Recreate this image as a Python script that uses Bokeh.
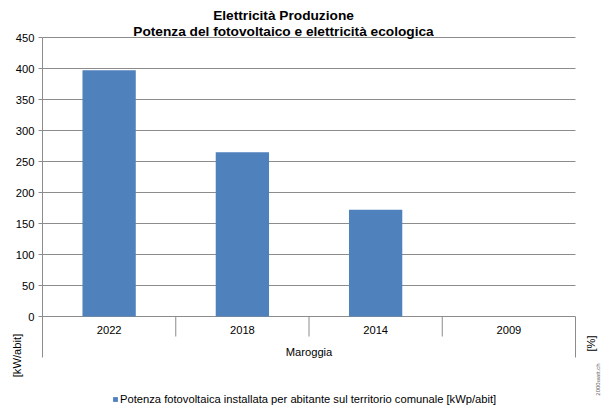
import numpy as np
from bokeh.plotting import figure
from bokeh.models import Legend, LegendItem, Range1d
from bokeh.core.properties import value
from bokeh.embed import file_html
from bokeh.resources import INLINE

# ---- data ----
categories = ["2022", "2018", "2014", "2009"]
group_label = "Maroggia"
values = [397, 265, 172, float("nan")]
y_ticks = [0, 50, 100, 150, 200, 250, 300, 350, 400, 450]
y_tick_labels = ["0", "50", "100", "150", "200", "250", "300", "350", "400", "450"]
series_name = "Potenza fotovoltaica installata per abitante sul territorio comunale [kWp/abit]"
title_1 = "Elettricità Produzione"
title_2 = "Potenza del fotovoltaico e elettricità ecologica"
y_label_left = "[kW/abit]"
y_label_right = "[%]"
source_note = "2000watt.ch"

# ---- style / layout (pixels) ----
FONT = "Liberation Sans"
FS = "11.2px"
FS_TITLE = "13.7px"
GRID = "#8c8c8c"
BAR = "#4F81BD"
TXT = "#000000"
W, H = 603, 407
FR_L, FR_R, FR_T, FR_B = 42, 575, 37, 316     # plot-area box in pixels
Y_MAX = y_ticks[-1]
n = len(categories)

px_per_x = (FR_R - FR_L) / n
px_per_y = (FR_B - FR_T) / Y_MAX
def xd(px):   # pixel column -> data x
    return (px - FR_L) / px_per_x
def yd(py):   # pixel row -> data y
    return (FR_B - py) / px_per_y

p = figure(width=W, height=H, output_backend="svg", toolbar_location=None,
           x_range=Range1d(xd(0), xd(W)), y_range=Range1d(yd(H), yd(0)),
           min_border=0, x_axis_location=None, y_axis_location=None)
p.outline_line_color = None
p.grid.visible = False
p.background_fill_color = "white"
p.border_fill_color = "white"

xs = [i + 0.5 for i in range(n)]

# gridlines
p.segment(x0=[0] * len(y_ticks), x1=[n] * len(y_ticks), y0=y_ticks, y1=y_ticks,
          line_color=GRID, line_width=1)
# y tick marks
p.segment(x0=[xd(FR_L - 4)] * len(y_ticks), x1=[0] * len(y_ticks), y0=y_ticks, y1=y_ticks,
          line_color=GRID, line_width=1)
# outer vertical lines (axis + right edge), inner category separators
p.segment(x0=[0, n], x1=[0, n], y0=[Y_MAX, 0], y1=[yd(357), yd(357)],
          line_color=GRID, line_width=1)
inner = list(range(1, n))
p.segment(x0=inner, x1=inner, y0=[0] * len(inner), y1=[yd(336)] * len(inner),
          line_color=GRID, line_width=1)

# bars
r = p.vbar(x=xs, top=values, width=0.4, fill_color=BAR, line_color=None)

# y tick labels
p.text(x=[xd(FR_L - 8)] * len(y_ticks), y=y_ticks, text=y_tick_labels,
       text_font=value(FONT), text_font_size=FS, text_color=TXT,
       text_align="right", text_baseline="middle")
# category labels
p.text(x=xs, y=[yd(329)] * n, text=categories,
       text_font=value(FONT), text_font_size=FS, text_color=TXT,
       text_align="center", text_baseline="middle")
# group label
p.text(x=[n / 2], y=[yd(351)], text=[group_label],
       text_font=value(FONT), text_font_size=FS, text_color=TXT,
       text_align="center", text_baseline="middle")
# titles
p.text(x=[xd(283), xd(283)], y=[yd(15), yd(31)], text=[title_1, title_2],
       text_font=value(FONT), text_font_size=FS_TITLE, text_font_style="bold",
       text_color=TXT, text_align="center", text_baseline="middle")
# unit labels
p.text(x=[xd(16)], y=[yd(355)], text=[y_label_left], angle=np.pi / 2,
       text_font=value(FONT), text_font_size=FS, text_color=TXT,
       text_align="center", text_baseline="middle")
p.text(x=[xd(590)], y=[yd(343)], text=[y_label_right], angle=np.pi / 2,
       text_font=value(FONT), text_font_size=FS, text_color=TXT,
       text_align="center", text_baseline="middle")
p.text(x=[xd(597)], y=[yd(379)], text=[source_note], angle=np.pi / 2,
       text_font=value(FONT), text_font_size="6px", text_color="#666666",
       text_align="center", text_baseline="middle")

legend = Legend(items=[LegendItem(label=series_name, renderers=[r])],
                location=(112, 2), orientation="horizontal",
                label_text_font=FONT, label_text_font_size=FS, label_text_color=TXT,
                label_height=11, glyph_width=6, glyph_height=6, label_standoff=2,
                padding=0, margin=0, spacing=0,
                border_line_color=None, background_fill_alpha=0)
p.add_layout(legend, "center")

open("out.html", "w").write(file_html(p, INLINE))
